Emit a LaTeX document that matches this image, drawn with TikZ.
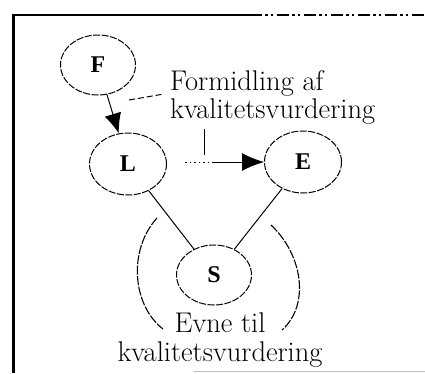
\documentclass[tikz,border=0pt]{standalone}
\usepackage{fontspec}
\newfontfamily\agentfont{Liberation Serif}
\usetikzlibrary{arrows.meta,shapes.geometric}
\begin{document}
\begin{tikzpicture}[x=1pt,y=-1pt,
  agent/.style={draw, ellipse, minimum width=75pt, minimum height=60pt,
    inner sep=0pt, line width=1pt, dash pattern=on 7pt off 1.5pt},
  letter/.style={font=\agentfont\bfseries\fontsize{24}{24}\selectfont},
  caption/.style={inner sep=0pt, font=\fontsize{28.5}{30}\selectfont},
  link/.style={line width=1pt},
  bigtip/.style={-{Latex[length=20pt,width=17pt]}},
  bracket/.style={line width=1.1pt, dash pattern=on 9pt off 1.5pt}]
\useasboundingbox (0,0) rectangle (425,373);

% frame
\draw[line width=3pt] (13,14) -- (13,373);
\draw[line width=2pt] (12,15) -- (250,15);
\draw[line width=1.6pt, dash pattern=on 12pt off 3pt on 3pt off 3pt on 2pt off 4pt] (250,15) -- (425,15);
\draw[black!25, line width=1pt] (193,371.5) -- (425,371.5);

% agents
\node[agent, letter] (F) at (98,65) {F};
\node[agent, letter, minimum width=77pt, minimum height=62pt] (L) at (128,164) {L};
\node[agent, letter, minimum width=77pt, minimum height=62pt] (E) at (303,162) {E};
\node[agent, letter] (S) at (214,275) {S};

% relations
\draw[link, bigtip] (F) -- (L);
\draw[link] (L) -- (S);
\draw[link] (E) -- (S);

\coordinate (da) at (185,162);
\coordinate (db) at (214,162);
\draw[link, dash pattern=on 1.5pt off 3pt] (da) -- (db);
\draw[link, -{Latex[length=22pt,width=18pt]}] (db) -- (E.west);

% captions
\node[caption, anchor=base west] (fa1) at (170,90) {Formidling af};
\node[caption, anchor=base west] (fa2) at (170,118) {kvalitetsvurdering};
\node[caption, anchor=base] (ev1) at (220,332) {Evne til};
\node[caption, anchor=base] (ev2) at (220,361) {kvalitetsvurdering};

% leaders
\coordinate (lf) at (129,100);
\coordinate (lt) at (164,94);
\draw[link, dash pattern=on 6pt off 3pt] (lf) -- (lt);
\coordinate (va) at (204,129);
\coordinate (vb) at (204,155);
\draw[link] (va) -- (vb);

% brackets around S
\coordinate (bl1) at (157,218);
\coordinate (bl2) at (163,329);
\draw[bracket] (bl1) .. controls (128,250) and (132,305) .. (bl2);
\coordinate (br1) at (271,225);
\coordinate (br2) at (282,330);
\draw[bracket] (br1) .. controls (303,255) and (310,305) .. (br2);
\end{tikzpicture}
\end{document}
